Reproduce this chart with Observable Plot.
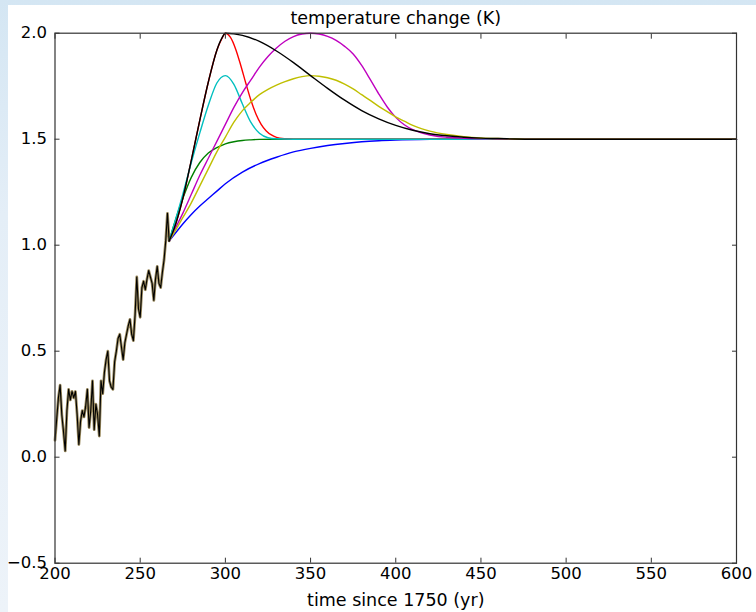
<!DOCTYPE html>
<html><head><meta charset="utf-8">
<script src="https://cdn.jsdelivr.net/npm/d3@7"></script>
<script src="https://cdn.jsdelivr.net/npm/@observablehq/plot@0.6"></script>
<style>
html,body{margin:0;padding:0;width:756px;height:612px;overflow:hidden;background:linear-gradient(180deg,#d4e6f3 0%,#e4eef7 35%,#edf3f9 100%);}
#panel{position:absolute;left:8px;top:5px;width:748px;height:607px;background:#fff;}
#chart{position:absolute;left:0;top:0;}
</style></head><body><div id="panel"></div><div id="chart"></div>
<script>
const titleText = "temperature change (K)";
const xLabelText = "time since 1750 (yr)";
const xTicks = [200, 250, 300, 350, 400, 450, 500, 550, 600];
const yTicks = [-0.5, 0.0, 0.5, 1.0, 1.5, 2.0];

// historical record (years 200..267)
const histYears = d3.range(200, 268);
const histValues = [0.08,0.18,0.28,0.34,0.20,0.12,0.03,0.22,0.32,0.27,
 0.31,0.28,0.31,0.20,0.06,0.17,0.22,0.19,0.24,0.32,
 0.14,0.22,0.36,0.13,0.25,0.20,0.10,0.36,0.30,0.40,
 0.46,0.50,0.36,0.33,0.32,0.45,0.50,0.56,0.58,0.52,
 0.46,0.54,0.58,0.62,0.65,0.58,0.55,0.67,0.85,0.70,
 0.66,0.80,0.83,0.79,0.84,0.88,0.85,0.82,0.74,0.84,
 0.90,0.82,0.80,0.87,0.93,1.02,1.15,1.02];

// scenarios
const blueYears = [267,270,275,280,285,290,295,300,310,320,330,340,350,360,370,380,390,400,420,440,600];
const blueValues = [1.02,1.05,1.10,1.145,1.185,1.22,1.255,1.29,1.345,1.385,1.415,1.44,1.457,1.47,1.48,1.488,1.493,1.496,1.499,1.5,1.5];

const greenYears = [267,270,275,280,285,290,295,300,305,310,315,320,330,600];
const greenValues = [1.02,1.10,1.22,1.32,1.39,1.435,1.46,1.478,1.488,1.494,1.497,1.499,1.5,1.5];

const redYears = [267,270,275,280,285,290,295,298,300,303,306,309,312,315,318,321,324,327,330,335,340,600];
const redValues = [1.02,1.08,1.22,1.40,1.59,1.77,1.92,1.975,2.0,1.98,1.926,1.849,1.764,1.684,1.618,1.57,1.539,1.52,1.509,1.502,1.5,1.5];

const cyanYears = [267,270,275,280,285,290,295,300,305,310,315,320,325,330,340,600];
const cyanValues = [1.02,1.10,1.24,1.39,1.53,1.66,1.765,1.80,1.759,1.666,1.579,1.528,1.507,1.502,1.5,1.5];

const magentaYears = [267,270,275,280,285,290,295,300,305,310,315,320,325,330,335,340,345,350,355,360,365,370,375,380,385,390,395,400,405,410,415,420,425,430,440,450,460,470,600];
const magentaValues = [1.02,1.07,1.15,1.24,1.33,1.41,1.49,1.57,1.65,1.72,1.78,1.84,1.89,1.93,1.962,1.984,1.996,2.0,1.996,1.985,1.966,1.938,1.902,1.848,1.782,1.714,1.652,1.603,1.568,1.545,1.53,1.52,1.513,1.509,1.504,1.502,1.501,1.5,1.5];

const yellowYears = [267,270,275,280,285,290,295,300,305,310,315,320,325,330,335,340,345,350,355,360,365,370,375,380,385,390,395,400,405,410,415,420,430,440,450,460,470,480,600];
const yellowValues = [1.02,1.06,1.13,1.20,1.28,1.36,1.44,1.51,1.58,1.635,1.675,1.71,1.735,1.755,1.772,1.785,1.795,1.8,1.797,1.79,1.778,1.76,1.737,1.71,1.683,1.655,1.63,1.605,1.585,1.565,1.55,1.538,1.522,1.512,1.506,1.503,1.501,1.5,1.5];

const blackYears = [267,270,275,280,285,290,295,298,300,305,310,320,330,340,350,360,370,380,390,400,410,420,430,440,450,460,470,480,600];
const blackValues = [1.02,1.08,1.22,1.40,1.59,1.77,1.92,1.978,2.0,1.997,1.99,1.961,1.916,1.861,1.80,1.74,1.684,1.635,1.596,1.565,1.542,1.526,1.516,1.509,1.505,1.503,1.501,1.5,1.5];

const scenarios = [
  {years: blueYears, values: blueValues, color: "#0000ff"},
  {years: greenYears, values: greenValues, color: "#008000"},
  {years: redYears, values: redValues, color: "#ff0000"},
  {years: cyanYears, values: cyanValues, color: "#00bfbf"},
  {years: magentaYears, values: magentaValues, color: "#bf00bf"},
  {years: yellowYears, values: yellowValues, color: "#bfbf00"},
  {years: blackYears, values: blackValues, color: "#000000"}
];

const hist = histYears.map((t, i) => ({t, v: histValues[i]}));
const scenarioMarks = scenarios.map(s =>
  Plot.line(s.years.map((t, i) => ({t, v: s.values[i]})), {x: "t", y: "v", stroke: s.color, strokeWidth: 1.4, curve: "monotone-x"})
);

const fmtY = d3.format(".1f");
const chart = Plot.plot({
  width: 756, height: 612,
  marginLeft: 54.5, marginRight: 20, marginTop: 32.7, marginBottom: 49.3,
  style: {background: "transparent", fontFamily: "DejaVu Sans", fontSize: "16.5px", color: "#000"},
  x: {domain: [200, 600], label: null},
  y: {domain: [-0.5, 2.0], label: null},
  marks: [
    Plot.line(hist, {x: "t", y: "v", stroke: "#9a8a5e", strokeWidth: 2.8}),
    ...scenarioMarks,
    Plot.line(hist, {x: "t", y: "v", stroke: "#000", strokeWidth: 1.1}),
    Plot.frame({stroke: "#333", strokeWidth: 1.2}),
    Plot.axisX(xTicks, {anchor: "bottom", tickSize: -5, tickFormat: () => "", label: null, stroke: "#333"}),
    Plot.axisX(xTicks, {anchor: "top", tickSize: -5, tickFormat: () => "", label: null, stroke: "#333"}),
    Plot.axisY(yTicks, {anchor: "left", tickSize: -5, tickFormat: () => "", label: null, stroke: "#333"}),
    Plot.axisY(yTicks, {anchor: "right", tickSize: -5, tickFormat: () => "", label: null, stroke: "#333"}),
    Plot.axisX(xTicks, {anchor: "bottom", tickSize: 0, tickPadding: 4, tickFormat: d => String(d), label: null, fill: "#000"}),
    Plot.axisY(yTicks, {anchor: "left", tickSize: 0, tickPadding: 8, tickFormat: fmtY, label: null, fill: "#000"}),
    Plot.text([titleText], {frameAnchor: "top", dy: -14.7, lineAnchor: "middle", fontSize: 17.5, fill: "#000"}),
    Plot.text([xLabelText], {frameAnchor: "bottom", dy: 37, lineAnchor: "middle", fontSize: 17.5, fill: "#000"})
  ]
});
document.getElementById("chart").append(chart);
</script>
</body></html>
